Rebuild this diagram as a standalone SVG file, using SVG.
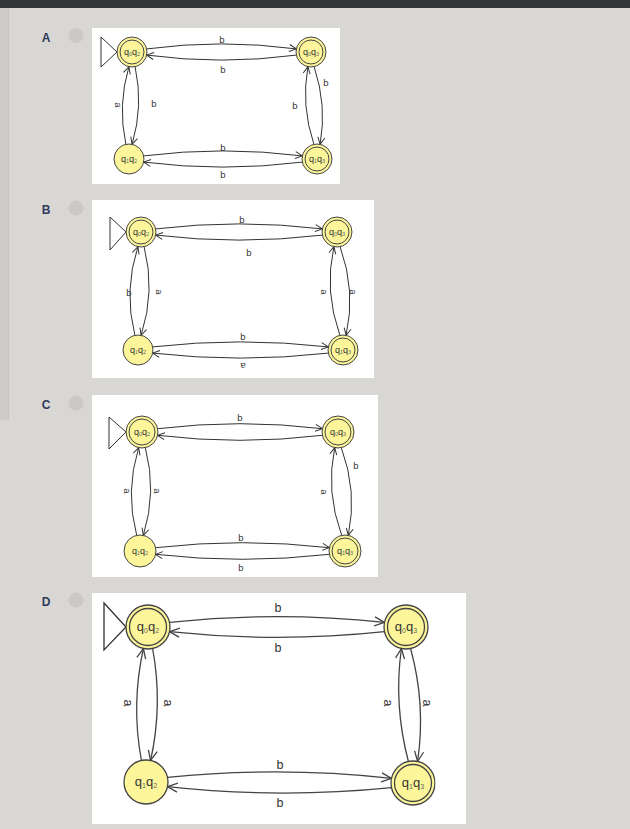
<svg xmlns="http://www.w3.org/2000/svg" width="630" height="829" viewBox="0 0 630 829">
<style>
.panel{fill:#ffffff}
.lbl{font-family:"Liberation Sans",Arial,sans-serif;font-weight:bold;font-size:12px;fill:#2e3a5c;text-anchor:middle}
.radio{fill:#cbc9c7}
.node{fill:#fcf59a;stroke:#444;stroke-width:1}
.inner{fill:none;stroke:#444;stroke-width:1}
.nd .node,.nd .inner{stroke-width:1.3}
.nt{font-family:"Liberation Sans",Arial,sans-serif;font-size:9px;fill:#333;text-anchor:middle}
.nt .s{font-size:5.5px;fill:#666}
.ntd{font-family:"Liberation Sans",Arial,sans-serif;font-size:13px;fill:#333;text-anchor:middle}
.ntd .s{font-size:7px;fill:#666}
.e{fill:none;stroke:#333;stroke-width:1;marker-end:url(#arr)}
.ed{fill:none;stroke:#444;stroke-width:1.3;marker-end:url(#arrd)}
.el{font-family:"Liberation Sans",Arial,sans-serif;font-size:9.5px;fill:#333;text-anchor:middle;dominant-baseline:central}
.eld{font-family:"Liberation Sans",Arial,sans-serif;font-size:12.5px;fill:#333;text-anchor:middle;dominant-baseline:central}
.init{fill:#fff;stroke:#333;stroke-width:1}
</style>
<defs>
<marker id="arr" viewBox="-10 -5 12 10" refX="0" refY="0" markerWidth="12" markerHeight="10" markerUnits="userSpaceOnUse" orient="auto"><path d="M-7,-3.5 L0,0 L-7,3.5" fill="none" stroke="#333" stroke-width="1"/></marker>
<marker id="arrd" viewBox="-12 -6 14 12" refX="0" refY="0" markerWidth="14" markerHeight="12" markerUnits="userSpaceOnUse" orient="auto"><path d="M-10,-4.5 L0,0 L-10,4.5" fill="none" stroke="#444" stroke-width="1.3"/></marker>
<clipPath id="clipD"><rect x="92" y="593" width="343.5" height="231"/></clipPath>
</defs>
<rect x="0" y="0" width="630" height="829" fill="#d9d7d4"/>
<rect x="0" y="8" width="8" height="412" fill="#cfccc9"/>
<line x1="8.5" y1="8" x2="8.5" y2="420" stroke="#c6c3c0" stroke-width="1"/>
<rect x="0" y="0" width="630" height="8" fill="#33373a"/>

<!-- Panel A -->
<g id="panelA">
<text class="lbl" x="46" y="42">A</text>
<circle class="radio" cx="76" cy="35.5" r="7.5"/>
<rect class="panel" x="92" y="28" width="248" height="156"/>
<g id="A-connectors">
<polygon class="init" points="101,37 117,52 101,67"/>
<path class="e" d="M146.7,48.9 Q221.5,38.9 296.3,48.9"/>
<path class="e" d="M296.3,55.1 Q221.5,65.1 146.7,55.1"/>
<path class="e" d="M125.9,144.3 Q117.4,105.5 128.9,66.7"/>
<path class="e" d="M135.1,66.7 Q143.6,105.5 132.1,144.3"/>
<path class="e" d="M313.9,144.3 Q300.9,105.5 307.9,66.7"/>
<path class="e" d="M314.1,66.7 Q327.1,105.5 320.1,144.3"/>
<path class="e" d="M143.7,155.9 Q223,145.9 302.3,155.9"/>
<path class="e" d="M302.3,162.1 Q223,172.1 143.7,162.1"/>
<text class="el" x="222" y="39">b</text>
<text class="el" x="223" y="69">b</text>
<text class="el" x="118" y="105" transform="rotate(90 118 105)">a</text>
<text class="el" x="154" y="103">b</text>
<text class="el" x="326" y="82">b</text>
<text class="el" x="295" y="105">b</text>
<text class="el" x="223" y="147">b</text>
<text class="el" x="223" y="174">b</text>
</g>
<g id="A-q0q2"><circle class="node" cx="132" cy="52" r="15"/><circle class="inner" cx="132" cy="52" r="12"/><text class="nt" x="132" y="55">q<tspan class="s" dy="1">0</tspan><tspan dy="-1">q</tspan><tspan class="s" dy="1">2</tspan></text></g>
<g id="A-q0q3"><circle class="node" cx="311" cy="52" r="15"/><circle class="inner" cx="311" cy="52" r="12"/><text class="nt" x="311" y="55">q<tspan class="s" dy="1">0</tspan><tspan dy="-1">q</tspan><tspan class="s" dy="1">3</tspan></text></g>
<g id="A-q1q2"><circle class="node" cx="129" cy="159" r="15"/><text class="nt" x="129" y="162">q<tspan class="s" dy="1">1</tspan><tspan dy="-1">q</tspan><tspan class="s" dy="1">2</tspan></text></g>
<g id="A-q1q3"><circle class="node" cx="317" cy="159" r="15"/><circle class="inner" cx="317" cy="159" r="12"/><text class="nt" x="317" y="162">q<tspan class="s" dy="1">1</tspan><tspan dy="-1">q</tspan><tspan class="s" dy="1">3</tspan></text></g>
</g>

<!-- Panel B -->
<g id="panelB">
<text class="lbl" x="46" y="214">B</text>
<circle class="radio" cx="76" cy="208" r="7.5"/>
<rect class="panel" x="92" y="200" width="282" height="178"/>
<g id="B-connectors">
<polygon class="init" points="110,217 126,232 110,250"/>
<path class="e" d="M155.7,228.9 Q239,218.9 322.3,228.9"/>
<path class="e" d="M322.3,235.1 Q239,245.1 155.7,235.1"/>
<path class="e" d="M134.9,335.3 Q123.5,291 137.9,246.7"/>
<path class="e" d="M144.1,246.7 Q155.5,291 141.1,335.3"/>
<path class="e" d="M339.9,335.3 Q324,291 333.9,246.7"/>
<path class="e" d="M340.1,246.7 Q356,291 346.1,335.3"/>
<path class="e" d="M152.7,346.9 Q240.5,336.9 328.3,346.9"/>
<path class="e" d="M328.3,353.1 Q240.5,363.1 152.7,353.1"/>
<text class="el" x="242" y="219">b</text>
<text class="el" x="249" y="252">b</text>
<text class="el" x="129" y="292">b</text>
<text class="el" x="159" y="292" transform="rotate(90 159 292)">a</text>
<text class="el" x="324" y="292" transform="rotate(90 324 292)">a</text>
<text class="el" x="353" y="292" transform="rotate(90 353 292)">a</text>
<text class="el" x="243" y="336">b</text>
<text class="el" x="243" y="366" transform="rotate(180 243 366)">a</text>
</g>
<g id="B-q0q2"><circle class="node" cx="141" cy="232" r="15"/><circle class="inner" cx="141" cy="232" r="12"/><text class="nt" x="141" y="235">q<tspan class="s" dy="1">0</tspan><tspan dy="-1">q</tspan><tspan class="s" dy="1">2</tspan></text></g>
<g id="B-q0q3"><circle class="node" cx="337" cy="232" r="15"/><circle class="inner" cx="337" cy="232" r="12"/><text class="nt" x="337" y="235">q<tspan class="s" dy="1">0</tspan><tspan dy="-1">q</tspan><tspan class="s" dy="1">3</tspan></text></g>
<g id="B-q1q2"><circle class="node" cx="138" cy="350" r="15"/><text class="nt" x="138" y="353">q<tspan class="s" dy="1">1</tspan><tspan dy="-1">q</tspan><tspan class="s" dy="1">2</tspan></text></g>
<g id="B-q1q3"><circle class="node" cx="343" cy="350" r="15"/><circle class="inner" cx="343" cy="350" r="12"/><text class="nt" x="343" y="353">q<tspan class="s" dy="1">1</tspan><tspan dy="-1">q</tspan><tspan class="s" dy="1">3</tspan></text></g>
</g>

<!-- Panel C -->
<g id="panelC">
<text class="lbl" x="46" y="409">C</text>
<circle class="radio" cx="76" cy="403" r="7.5"/>
<rect class="panel" x="92" y="395" width="286" height="182"/>
<g id="C-connectors">
<polygon class="init" points="109,417 126,432 109,449"/>
<path class="e" d="M157.6,428.7 Q240,418.7 322.4,428.7"/>
<path class="e" d="M322.4,435.3 Q240,445.3 157.6,435.3"/>
<path class="e" d="M136.7,535.4 Q125,491.5 138.7,447.6"/>
<path class="e" d="M145.3,447.6 Q157,491.5 143.3,535.4"/>
<path class="e" d="M341.7,535.4 Q325.5,491.5 334.7,447.6"/>
<path class="e" d="M341.3,447.6 Q357.5,491.5 348.3,535.4"/>
<path class="e" d="M155.6,547.7 Q242.5,537.7 329.4,547.7"/>
<path class="e" d="M329.4,554.3 Q242.5,564.3 155.6,554.3"/>
<text class="el" x="240" y="417">b</text>
<text class="el" x="127" y="491" transform="rotate(90 127 491)">a</text>
<text class="el" x="157" y="491" transform="rotate(90 157 491)">a</text>
<text class="el" x="356" y="465">b</text>
<text class="el" x="324" y="492" transform="rotate(90 324 492)">a</text>
<text class="el" x="241" y="537">b</text>
<text class="el" x="241" y="567">b</text>
</g>
<g id="C-q0q2"><circle class="node" cx="142" cy="432" r="16"/><circle class="inner" cx="142" cy="432" r="13"/><text class="nt" x="142" y="435">q<tspan class="s" dy="1">0</tspan><tspan dy="-1">q</tspan><tspan class="s" dy="1">2</tspan></text></g>
<g id="C-q0q3"><circle class="node" cx="338" cy="432" r="16"/><circle class="inner" cx="338" cy="432" r="13"/><text class="nt" x="338" y="435">q<tspan class="s" dy="1">0</tspan><tspan dy="-1">q</tspan><tspan class="s" dy="1">3</tspan></text></g>
<g id="C-q1q2"><circle class="node" cx="140" cy="551" r="16"/><text class="nt" x="140" y="554">q<tspan class="s" dy="1">1</tspan><tspan dy="-1">q</tspan><tspan class="s" dy="1">2</tspan></text></g>
<g id="C-q1q3"><circle class="node" cx="345" cy="551" r="16"/><circle class="inner" cx="345" cy="551" r="13"/><text class="nt" x="345" y="554">q<tspan class="s" dy="1">1</tspan><tspan dy="-1">q</tspan><tspan class="s" dy="1">3</tspan></text></g>
</g>

<!-- Panel D -->
<g id="panelD">
<text class="lbl" x="46" y="606">D</text>
<circle class="radio" cx="76" cy="600" r="7.5"/>
<rect class="panel" x="92" y="593" width="374" height="231"/>
<g id="D-connectors">
<polygon class="init" points="104,603 126,627 104,650" style="stroke-width:1.3"/>
<path class="ed" d="M169.5,622.4 Q277,611 384.5,622.4"/>
<path class="ed" d="M384.5,631.6 Q277,643 169.5,631.6"/>
<path class="ed" d="M141.4,760.5 Q131,704.5 143.4,648.5"/>
<path class="ed" d="M152.6,648.5 Q163,704.5 150.6,760.5"/>
<path class="ed" d="M408.4,761.5 Q393.5,705 401.4,648.5"/>
<path class="ed" d="M410.6,648.5 Q426,705 417.6,761.5"/>
<path class="ed" d="M167.5,777.4 Q279,766 391.5,778.4"/>
<path class="ed" d="M391.5,787.6 Q279,799 167.5,786.6"/>
<text class="eld" x="278" y="608">b</text>
<text class="eld" x="278" y="648">b</text>
<text class="eld" x="128" y="703" transform="rotate(90 128 703)">a</text>
<text class="eld" x="168" y="703" transform="rotate(90 168 703)">a</text>
<text class="eld" x="388" y="703" transform="rotate(90 388 703)">a</text>
<text class="eld" x="427" y="703" transform="rotate(90 427 703)">a</text>
<text class="eld" x="280" y="765">b</text>
<text class="eld" x="280" y="803">b</text>
</g>
<g id="D-q0q2" class="nd"><circle class="node" cx="148" cy="627" r="22"/><circle class="inner" cx="148" cy="627" r="18.5"/><text class="ntd" x="148" y="631">q<tspan class="s" dy="1.5">0</tspan><tspan dy="-1.5">q</tspan><tspan class="s" dy="1.5">2</tspan></text></g>
<g id="D-q0q3" class="nd"><circle class="node" cx="406" cy="627" r="22"/><circle class="inner" cx="406" cy="627" r="18.5"/><text class="ntd" x="406" y="631">q<tspan class="s" dy="1.5">0</tspan><tspan dy="-1.5">q</tspan><tspan class="s" dy="1.5">3</tspan></text></g>
<g id="D-q1q2" class="nd"><circle class="node" cx="146" cy="782" r="22"/><text class="ntd" x="146" y="786">q<tspan class="s" dy="1.5">1</tspan><tspan dy="-1.5">q</tspan><tspan class="s" dy="1.5">2</tspan></text></g>
<g id="D-q1q3" class="nd" clip-path="url(#clipD)"><circle class="node" cx="413" cy="783" r="22"/><circle class="inner" cx="413" cy="783" r="18.5"/><text class="ntd" x="413" y="787">q<tspan class="s" dy="1.5">1</tspan><tspan dy="-1.5">q</tspan><tspan class="s" dy="1.5">3</tspan></text></g>
</g>
</svg>
